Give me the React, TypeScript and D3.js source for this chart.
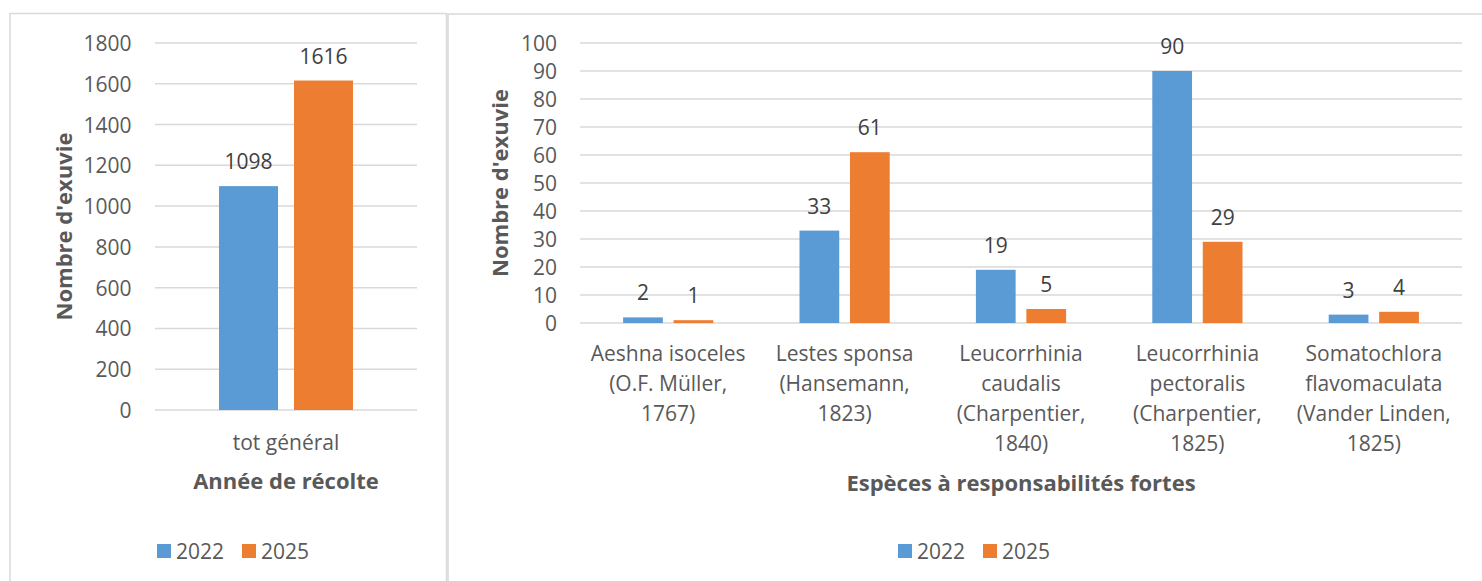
import React from "react";
import * as d3 from "d3";

const seriesNames = ["2022", "2025"];
const seriesColors = ["#5B9BD5", "#ED7D31"];

const leftCategories = ["tot général"];
const left2022 = [1098];
const left2025 = [1616];
const leftTicks = [0, 200, 400, 600, 800, 1000, 1200, 1400, 1600, 1800];

const rightCategories = [
  "Aeshna isoceles (O.F. Müller, 1767)",
  "Lestes sponsa (Hansemann, 1823)",
  "Leucorrhinia caudalis (Charpentier, 1840)",
  "Leucorrhinia pectoralis (Charpentier, 1825)",
  "Somatochlora flavomaculata (Vander Linden, 1825)",
];
const rightCategoryLines = [
  ["Aeshna isoceles", "(O.F. Müller,", "1767)"],
  ["Lestes sponsa", "(Hansemann,", "1823)"],
  ["Leucorrhinia", "caudalis", "(Charpentier,", "1840)"],
  ["Leucorrhinia", "pectoralis", "(Charpentier,", "1825)"],
  ["Somatochlora", "flavomaculata", "(Vander Linden,", "1825)"],
];
const right2022 = [2, 33, 19, 90, 3];
const right2025 = [1, 61, 5, 29, 4];
const rightTicks = [0, 10, 20, 30, 40, 50, 60, 70, 80, 90, 100];

const FONT = "'Open Sans', 'Noto Sans', sans-serif";
const GRID = "#D9D9D9";
const TXT = "#595959";
const LBL = "#404040";
const FS = 21;
const FSB = 22;

type PanelProps = {
  categories: string[];
  lines: string[][];
  s1: number[];
  s2: number[];
  ticks: number[];
  x0: number;
  x1: number;
  yTop: number;
  yBottom: number;
  tickX: number;
  yTitleX: number;
  xTitle: string;
  xTitleY: number;
  catY0: number;
  legendX: number;
};

function Panel(p: PanelProps) {
  const y = d3
    .scaleLinear()
    .domain([0, p.ticks[p.ticks.length - 1]])
    .range([p.yBottom, p.yTop]);
  const x = d3.scaleBand().domain(p.categories).range([p.x0, p.x1]).padding(0);
  const sub = d3
    .scaleBand()
    .domain(seriesNames)
    .range([0, x.bandwidth()])
    .paddingInner(0.2126)
    .paddingOuter(0.854);
  const series = [p.s1, p.s2];
  const midX = (p.x0 + p.x1) / 2;
  const midY = (p.yTop + p.yBottom) / 2;
  return (
    <g fontFamily={FONT}>
      {p.ticks.map((t) => (
        <g key={t}>
          <line x1={p.x0} x2={p.x1} y1={y(t)} y2={y(t)} stroke={GRID} strokeWidth={1.5} />
          <text x={p.tickX} y={y(t)} textAnchor="end" dominantBaseline="central" fontSize={FS} fill={TXT}>
            {t}
          </text>
        </g>
      ))}
      {series.map((vals, si) =>
        p.categories.map((c, ci) => {
          const bx = (x(c) as number) + (sub(seriesNames[si]) as number);
          const top = y(vals[ci]);
          return (
            <g key={`${si}-${ci}`}>
              <rect x={bx} y={top} width={sub.bandwidth()} height={p.yBottom - top} fill={seriesColors[si]} />
              <text
                x={bx + sub.bandwidth() / 2}
                y={top - 25}
                textAnchor="middle"
                dominantBaseline="central"
                fontSize={FS}
                fill={LBL}
              >
                {vals[ci]}
              </text>
            </g>
          );
        })
      )}
      {p.categories.map((c, ci) => (
        <text key={c} textAnchor="middle" fontSize={FS} fill={TXT}>
          {p.lines[ci].map((ln, li) => (
            <tspan key={li} x={(x(c) as number) + x.bandwidth() / 2} y={p.catY0 + li * 30} dominantBaseline="central">
              {ln}
            </tspan>
          ))}
        </text>
      ))}
      <text
        transform={`translate(${p.yTitleX},${midY}) rotate(-90)`}
        textAnchor="middle"
        dominantBaseline="central"
        fontSize={FSB}
        fontWeight="bold"
        fill={TXT}
      >
        Nombre d'exuvie
      </text>
      <text x={midX} y={p.xTitleY} textAnchor="middle" dominantBaseline="central" fontSize={FSB} fontWeight="bold" fill={TXT}>
        {p.xTitle}
      </text>
      {seriesNames.map((s, i) => (
        <g key={s}>
          <rect x={p.legendX + i * 85} y={544} width={14} height={14} fill={seriesColors[i]} />
          <text x={p.legendX + i * 85 + 19} y={551} dominantBaseline="central" fontSize={FS} fill={TXT}>
            {s}
          </text>
        </g>
      ))}
    </g>
  );
}

export default function App() {
  return (
    <svg
      width={1482}
      height={581}
      style={{ position: "absolute", left: 0, top: 0, background: "#fff" }}
    >
      <rect x={0} y={0} width={1482} height={581} fill="#fff" />
      <rect x={10} y={13.5} width={436.5} height={620} fill="#fff" stroke={GRID} strokeWidth={1.5} />
      <rect x={448} y={14} width={1100} height={620} fill="#fff" stroke={GRID} strokeWidth={1.5} />
      <Panel
        categories={leftCategories}
        lines={[["tot général"]]}
        s1={left2022}
        s2={left2025}
        ticks={leftTicks}
        x0={155}
        x1={417}
        yTop={43}
        yBottom={410}
        tickX={131.5}
        yTitleX={63}
        xTitle="Année de récolte"
        xTitleY={480}
        catY0={442}
        legendX={157}
      />
      <Panel
        categories={rightCategories}
        lines={rightCategoryLines}
        s1={right2022}
        s2={right2025}
        ticks={rightTicks}
        x0={580}
        x1={1462}
        yTop={43}
        yBottom={323}
        tickX={557}
        yTitleX={499}
        xTitle="Espèces à responsabilités fortes"
        xTitleY={482}
        catY0={353}
        legendX={898}
      />
    </svg>
  );
}
